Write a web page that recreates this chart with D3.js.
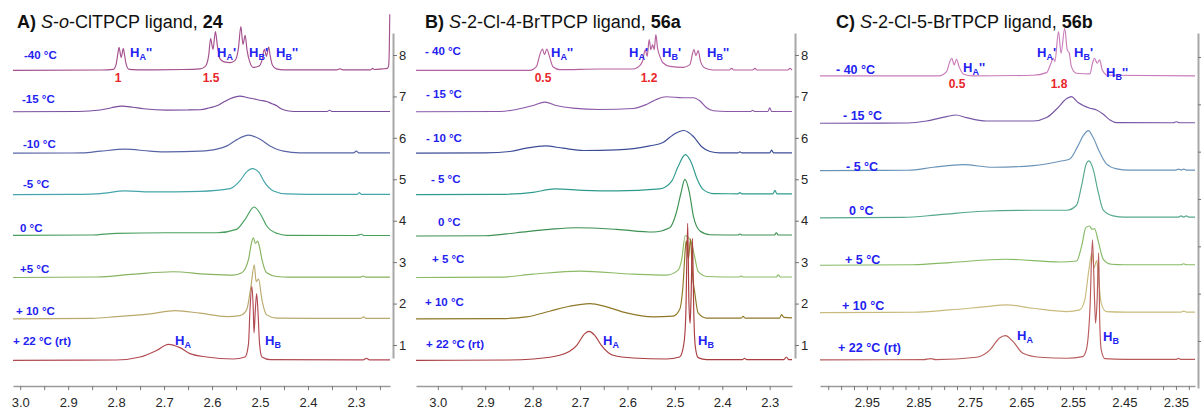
<!DOCTYPE html>
<html>
<head>
<meta charset="utf-8">
<script src="https://cdn.jsdelivr.net/npm/d3@7"></script>
<style>
  html, body { margin: 0; padding: 0; background: #fff; }
  svg { display: block; font-family: "Liberation Sans", Arial, sans-serif; }
</style>
</head>
<body>
<script>
// ---------------- data ----------------
// Chemical-shift ticks (ppm) labelled on each horizontal axis
const ppmTicksA = [3.0, 2.9, 2.8, 2.7, 2.6, 2.5, 2.4, 2.3];
const ppmTicksB = [3.0, 2.9, 2.8, 2.7, 2.6, 2.5, 2.4, 2.3];
const ppmTicksC = [2.95, 2.85, 2.75, 2.65, 2.55, 2.45, 2.35];
// Stack offsets shown on the right-hand axis
const offsetTicksAB = [1, 2, 3, 4, 5, 6, 7, 8];
const offsetTicksC = [2, 3, 4, 5, 6, 7, 8];

// Temperatures, top spectrum first
const tempsA = ["-40 °C", "-15 °C", "-10 °C", "-5 °C", "0 °C", "+5 °C", "+ 10 °C", "+ 22 °C (rt)"];
const tempsB = ["- 40 °C", "- 15 °C", "- 10 °C", "- 5 °C", "0 °C", "+ 5 °C", "+ 10 °C", "+ 22 °C (rt)"];
const tempsC = ["- 40 °C", "- 15 °C", "- 5 °C", "0 °C", "+ 5 °C", "+ 10 °C", "+ 22 °C (rt)"];

// Integrals of the -40 °C signals
const integralsA = ["1", "1.5"];
const integralsB = ["0.5", "1.2"];
const integralsC = ["0.5", "1.8"];

// Spectra: [ppm, intensity (a.u.)], top spectrum first
const spectraA = [
  [[3.015,0],[2.83,0.3],[2.806,1],[2.800,6],[2.796,18],[2.794,23],[2.7895,13],[2.785,22],[2.783,17],[2.779,6],[2.773,1],[2.74,0.5],[2.66,0.8],[2.625,1.5],[2.614,4],[2.607,15],[2.603,31.7],[2.598,21],[2.593,38.7],[2.589,25],[2.584,12],[2.575,8.5],[2.562,7.7],[2.552,10],[2.545,22],[2.540,43.7],[2.5355,26],[2.531,35],[2.527,20],[2.521,8],[2.514,3],[2.503,4],[2.496,10],[2.491,21],[2.4865,14],[2.482,23.3],[2.479,15],[2.474,5],[2.466,1.5],[2.45,0.5],[2.34,0.5],[2.333,1.5],[2.328,0.5],[2.27,0.5],[2.265,2],[2.262,0.8],[2.245,1.5],[2.235,2],[2.232,4],[2.2305,20],[2.2295,56]],
  [[3.015,0],[2.88,0.3],[2.833,1.7],[2.81,4],[2.788,5.7],[2.765,4.5],[2.743,3],[2.694,1.7],[2.65,1.8],[2.625,2],[2.605,4],[2.59,6],[2.575,10],[2.5625,13],[2.542,15.7],[2.525,14],[2.514,13],[2.5,11.5],[2.486,10.3],[2.475,8],[2.465,6],[2.458,3.5],[2.451,2],[2.44,0.8],[2.42,0.3],[2.36,0.3],[2.355,1.5],[2.35,0.3],[2.229,0.3]],
  [[3.015,0],[2.87,0.3],[2.833,2],[2.781,4],[2.729,2],[2.694,1.3],[2.625,2],[2.59,4],[2.569,7.3],[2.549,13.3],[2.524,18],[2.5,14],[2.479,7.3],[2.462,3.5],[2.451,2],[2.417,0.3],[2.305,0.3],[2.299,2],[2.294,0.3],[2.229,0.3]],
  [[3.015,0],[2.87,0.3],[2.833,1],[2.781,3.7],[2.729,2.7],[2.625,3.3],[2.5625,6],[2.542,13.7],[2.528,22.7],[2.516,26],[2.503,22.7],[2.490,12],[2.472,3.7],[2.444,0.7],[2.40,0.3],[2.297,0.3],[2.293,2],[2.289,0.3],[2.229,0.3]],
  [[3.015,0.7],[2.85,1],[2.799,2.7],[2.694,3.3],[2.59,3.3],[2.549,6.7],[2.531,16.7],[2.5125,29],[2.496,19.3],[2.486,10],[2.465,2.7],[2.444,0.7],[2.30,0.5],[2.288,1.8],[2.284,0.5],[2.229,0.5]],
  [[3.015,0],[2.84,0.5],[2.764,3.3],[2.681,5.7],[2.611,3.3],[2.556,2.3],[2.538,4.7],[2.524,18],[2.518,34],[2.514,39.7],[2.5095,34],[2.505,36.3],[2.500,28],[2.496,18],[2.486,4.7],[2.465,1],[2.44,0.3],[2.29,0.3],[2.285,1.5],[2.28,0.3],[2.229,0.3]],
  [[3.015,0],[2.85,0.5],[2.799,2.3],[2.729,5],[2.677,8.3],[2.625,5.7],[2.569,2.3],[2.542,3.3],[2.528,9],[2.519,32.3],[2.512,54],[2.508,37.3],[2.503,39.7],[2.496,19],[2.486,4],[2.465,0.7],[2.29,0.5],[2.284,2],[2.279,0.5],[2.229,0.5]],
  [[3.015,0],[2.80,0.3],[2.75,3.3],[2.715,10],[2.691,16],[2.667,12.7],[2.646,6.7],[2.611,3.3],[2.556,1.3],[2.531,3.3],[2.524,16.7],[2.521,50],[2.517,74],[2.514,50],[2.5125,27.3],[2.5098,50],[2.507,66.7],[2.504,46.7],[2.501,16.7],[2.496,3.3],[2.479,0.7],[2.285,0.5],[2.278,2],[2.272,0.5],[2.229,0.5]]
];

const spectraB = [
  [[3.046,0],[2.806,0],[2.7918,4],[2.7848,15.7],[2.7792,21.3],[2.775,15.7],[2.770,21.3],[2.7651,14.7],[2.7567,3.3],[2.7426,0.7],[2.658,1.3],[2.588,1.3],[2.5774,3.3],[2.5682,9],[2.5626,20.7],[2.5584,14],[2.5542,30.7],[2.5506,20.7],[2.5471,25.7],[2.5436,20.7],[2.5401,35.7],[2.5366,22.3],[2.5316,14],[2.5246,7.3],[2.5105,4],[2.4824,3],[2.4684,5.7],[2.4599,20.7],[2.4557,14.7],[2.4508,19.7],[2.4459,9],[2.4367,2.3],[2.4191,0.3],[2.385,0.3],[2.3804,2],[2.376,0.3],[2.336,0.3],[2.3312,2],[2.327,0.3],[2.262,0.3],[2.2574,2],[2.253,0.3]],
  [[3.046,0],[2.869,0.3],[2.834,2.3],[2.799,6.3],[2.774,9.7],[2.750,6.3],[2.715,3.7],[2.658,2.3],[2.588,3.3],[2.560,7.3],[2.539,12.3],[2.518,15],[2.483,14],[2.461,14],[2.447,10.7],[2.433,4],[2.419,1],[2.39,0.3],[2.34,0.3],[2.336,1.5],[2.332,0.3],[2.304,0.3],[2.300,4],[2.296,0.3],[2.253,0.3]],
  [[3.046,0],[2.90,0.3],[2.848,1.7],[2.813,5],[2.774,7.3],[2.736,5],[2.693,2.7],[2.623,3.3],[2.553,7.3],[2.525,10.7],[2.504,18.3],[2.481,22.7],[2.461,16.7],[2.444,6.7],[2.426,1.7],[2.405,0.3],[2.367,0.3],[2.363,1.3],[2.359,0.3],[2.30,0.3],[2.296,3],[2.292,0.3],[2.253,0.3]],
  [[3.046,0],[2.869,0.3],[2.799,2.3],[2.753,5.7],[2.693,4.3],[2.623,3.7],[2.532,5.7],[2.507,13.3],[2.493,28.3],[2.478,40],[2.465,31.7],[2.454,16.7],[2.440,5],[2.419,1],[2.367,0.8],[2.363,2],[2.359,0.8],[2.293,0.8],[2.289,4.3],[2.285,0.8],[2.253,0.8]],
  [[3.046,0],[2.90,0.3],[2.834,3.3],[2.764,6.7],[2.708,8.3],[2.623,6.7],[2.546,4],[2.511,8.3],[2.497,23.3],[2.487,43.3],[2.479,56.7],[2.470,45],[2.461,20],[2.447,5],[2.426,1.3],[2.367,1],[2.363,2],[2.359,1],[2.290,1],[2.286,3.3],[2.282,1],[2.253,1]],
  [[3.046,0],[2.87,0.3],[2.799,3.3],[2.700,6.3],[2.588,3.3],[2.518,2.3],[2.493,7.3],[2.486,17],[2.478,42],[2.472,40],[2.465,35],[2.458,20],[2.451,6],[2.433,1],[2.364,0.5],[2.360,1.5],[2.356,0.5],[2.286,0.5],[2.282,2.7],[2.278,0.5],[2.253,0.5]],
  [[3.046,0],[2.869,0.3],[2.813,2],[2.764,7.7],[2.722,12.7],[2.679,15.3],[2.644,12],[2.602,6],[2.546,2],[2.504,2.7],[2.490,9.3],[2.483,32.7],[2.478,70],[2.476,78],[2.4715,60],[2.467,80],[2.463,45],[2.458,26],[2.451,6],[2.433,0.8],[2.36,0.8],[2.356,2.5],[2.352,0.8],[2.279,0.8],[2.275,4.3],[2.270,1.5],[2.253,1]],
  [[3.046,0],[2.85,0.3],[2.799,1.3],[2.743,5],[2.707,15],[2.690,26.7],[2.681,29],[2.669,25],[2.655,15],[2.630,5],[2.588,2.3],[2.518,1.3],[2.490,3.3],[2.481,16.7],[2.477,45],[2.473,137],[2.4705,60],[2.468,37],[2.466,60],[2.463,122],[2.460,45],[2.457,14],[2.451,2.7],[2.433,0.7],[2.357,0.7],[2.353,2],[2.349,0.7],[2.27,0.7],[2.265,3.3],[2.26,0.7],[2.253,0.7]]
];

const spectraC = [
  [[3.041,0],[2.81,0],[2.7954,4.3],[2.789,14.3],[2.785,17.7],[2.7805,11],[2.776,16.7],[2.771,9.3],[2.763,2],[2.744,0],[2.627,0.7],[2.601,3.3],[2.594,11],[2.588,17.7],[2.585,14.3],[2.578,44.3],[2.573,22.7],[2.566,47.7],[2.561,26],[2.557,22.7],[2.553,9.3],[2.543,2.7],[2.517,2],[2.512,12.7],[2.508,17.7],[2.503,12.7],[2.498,16],[2.493,6],[2.482,0.7],[2.313,0]],
  [[3.041,0],[2.87,0.3],[2.834,2.3],[2.795,6.7],[2.777,8.3],[2.757,5.7],[2.718,2.3],[2.627,2.3],[2.601,5.7],[2.582,14],[2.562,24.7],[2.553,26.7],[2.540,20.7],[2.517,15],[2.504,13.3],[2.491,9],[2.478,3.3],[2.465,0.7],[2.355,0.5],[2.349,1.5],[2.343,0.5],[2.313,0.5]],
  [[3.041,0],[2.87,0.3],[2.821,3.3],[2.763,6],[2.705,3.3],[2.627,5],[2.575,9.3],[2.556,11.7],[2.540,25],[2.530,35],[2.520,40],[2.511,33.3],[2.498,18.3],[2.485,6.7],[2.465,1.7],[2.44,0.5],[2.35,0.5],[2.345,1.5],[2.34,0.5],[2.335,1.5],[2.33,0.5],[2.313,0.5]],
  [[3.041,0],[2.88,0.5],[2.808,3.3],[2.724,6.7],[2.627,7.7],[2.562,7.7],[2.543,12.7],[2.533,32.7],[2.524,54.3],[2.519,57],[2.511,49.3],[2.501,26],[2.491,7.7],[2.472,2],[2.45,0.8],[2.345,0.8],[2.34,2],[2.335,0.8],[2.33,2],[2.325,0.8],[2.313,0.8]],
  [[3.041,0],[2.86,0.5],[2.789,2.7],[2.679,6],[2.575,3.3],[2.543,4.3],[2.533,19.3],[2.525,37.7],[2.518,39.3],[2.513,36],[2.508,36.7],[2.501,24.3],[2.491,6],[2.475,1],[2.45,0.5],[2.34,0.5],[2.335,1.5],[2.33,0.5],[2.313,0.5]],
  [[3.041,0],[2.86,0.3],[2.789,2.7],[2.718,6],[2.679,7.7],[2.627,4.3],[2.562,1],[2.537,2.7],[2.527,12.7],[2.519,42.7],[2.513,60],[2.509,45],[2.504,52],[2.500,32.7],[2.495,9.3],[2.485,1],[2.45,0.5],[2.34,0.5],[2.335,1.5],[2.33,0.5],[2.313,0.5]],
  [[3.041,0],[2.84,0.3],[2.826,1.3],[2.816,0.3],[2.737,2.7],[2.711,10],[2.693,21.7],[2.681,24.3],[2.666,18.3],[2.647,6.7],[2.614,2.7],[2.562,1.7],[2.531,3.3],[2.524,10],[2.517,50],[2.512,120],[2.508,60],[2.506,36.7],[2.503,60],[2.500,107],[2.498,40],[2.495,10],[2.488,1.3],[2.45,0.5],[2.35,0.5],[2.345,1.5],[2.34,0.5],[2.313,0.5]]
];

// ---------------- styles & layout ----------------
const BLUE = "#1f22f0", RED = "#e8262b", AXIS = "#9a9a9a", TXT = "#262626";
const colorsA = ["#a4508e", "#7b4c9c", "#5864a6", "#45a5ab", "#48a05e", "#86b35f", "#b9a96c", "#b24a52"];
const colorsB = ["#b5609f", "#8b58a8", "#3c4d97", "#2f9b8e", "#3d9152", "#8cbb66", "#8e7826", "#aa3d3f"];
const colorsC = ["#c97cba", "#7656a6", "#6a93b8", "#55a98a", "#85ba63", "#c9bb7e", "#b95b5b"];

const W = 1201, H = 411;
const svg = d3.select("body").append("svg").attr("width", W).attr("height", H);

const panels = [
  {
    title: [["A)", "bold", "normal"], [" ", "normal", "normal"], ["S", "normal", "italic"], ["-", "normal", "normal"], ["o", "normal", "italic"], ["-ClTPCP ligand, ", "normal", "normal"], ["24", "bold", "normal"]],
    titleX: 17,
    xDomain: [3.015, 2.229], xRange: [13, 390],
    ticks: ppmTicksA, tickStep: 0.05, fmt: d3.format(".1f"),
    offDomain: [0.686, 8.531], offRange: [358, 33], offTicks: offsetTicksAB, offLabels: true,
    axisX: 393, baseShift: 0.37,
    temps: tempsA, tempSize: 11.5, spectra: spectraA, colors: colorsA,
    tempPos: [[24, 56], [22, 100], [23, 145], [23, 185], [20, 229], [20, 270], [16, 312], [13, 342]],
    peaks: [[130, 57, "A", "''"], [217, 57, "A", "'"], [249, 57, "B", "'"], [276, 57, "B", "''"], [175, 345, "A", ""], [265, 345, "B", ""]],
    integrals: integralsA, intPos: [[118, 82], [211, 82]]
  },
  {
    title: [["B)", "bold", "normal"], [" ", "normal", "normal"], ["S", "normal", "italic"], ["-2-Cl-4-BrTPCP ligand, ", "normal", "normal"], ["56a", "bold", "normal"]],
    titleX: 425,
    xDomain: [3.046, 2.253], xRange: [416, 792],
    ticks: ppmTicksB, tickStep: 0.05, fmt: d3.format(".1f"),
    offDomain: [0.686, 8.531], offRange: [358, 33], offTicks: offsetTicksAB, offLabels: true,
    axisX: 795, baseShift: 0.37,
    temps: tempsB, tempSize: 11.5, spectra: spectraB, colors: colorsB,
    tempPos: [[425, 52], [426, 95], [426, 139], [431, 180], [438, 223], [432, 260], [425, 303], [426, 345]],
    peaks: [[551, 57, "A", "''"], [629, 57, "A", "'"], [662, 57, "B", "'"], [707, 57, "B", "''"], [603, 345, "A", ""], [698, 345, "B", ""]],
    integrals: integralsB, intPos: [[543, 82], [649, 82]]
  },
  {
    title: [["C)", "bold", "normal"], [" ", "normal", "normal"], ["S", "normal", "italic"], ["-2-Cl-5-BrTPCP ligand, ", "normal", "normal"], ["56b", "bold", "normal"]],
    titleX: 836,
    xDomain: [3.041, 2.313], xRange: [820, 1195],
    ticks: ppmTicksC, tickStep: 0.025, fmt: d3.format(".2f"),
    offDomain: [1.007, 8.507], offRange: [388, 33], offTicks: offsetTicksC, offLabels: false,
    axisX: 1198, baseShift: 0.4,
    temps: tempsC, tempSize: 12.5, spectra: spectraC, colors: colorsC,
    tempPos: [[836, 71], [843, 117], [846, 168], [849, 212], [845, 261], [842, 307], [838, 349]],
    peaks: [[963, 72, "A", "''"], [1037, 57, "A", "'"], [1074, 57, "B", "'"], [1106, 77, "B", "''"], [1017, 340, "A", ""], [1103, 341, "B", ""]],
    integrals: integralsC, intPos: [[957, 88], [1059, 88]]
  }
];

// intensity in a.u. -> vertical pixels
const amp = d3.scaleLinear().domain([0, 100]).range([0, 100]);

panels.forEach(p => {
  const g = svg.append("g");
  const x = d3.scaleLinear().domain(p.xDomain).range(p.xRange);
  const yOff = d3.scaleLinear().domain(p.offDomain).range(p.offRange);
  const nTop = 8;

  // title
  const t = g.append("text").attr("x", p.titleX).attr("y", 28)
    .attr("font-size", 18).attr("fill", "#111");
  p.title.forEach(([s, w, st]) => t.append("tspan").attr("font-weight", w).attr("font-style", st).text(s));

  // spectra, top first so the lower traces sit on top
  p.spectra.forEach((spec, i) => {
    const base = nTop - i - p.baseShift;
    const line = d3.line()
      .x(d => x(d[0]))
      .y(d => yOff(base) - amp(d[1]))
      .curve(d3.curveMonotoneX);
    g.append("path").datum(spec)
      .attr("d", line).attr("fill", "none")
      .attr("stroke", p.colors[i]).attr("stroke-width", 1.15)
      .attr("stroke-linejoin", "round");
  });

  // temperature labels
  p.temps.forEach((s, i) => {
    g.append("text").attr("x", p.tempPos[i][0]).attr("y", p.tempPos[i][1])
      .attr("dominant-baseline", "middle")
      .attr("font-size", p.tempSize).attr("font-weight", "bold").attr("fill", BLUE).text(s);
  });

  // proton assignments
  p.peaks.forEach(([px, py, sub, primes]) => {
    const tx = g.append("text").attr("x", px).attr("y", py)
      .attr("font-size", 13).attr("font-weight", "bold").attr("fill", BLUE);
    tx.append("tspan").text("H");
    tx.append("tspan").attr("font-size", 9).attr("dy", 3).text(sub);
    if (primes) tx.append("tspan").attr("font-size", 13).attr("dy", -3).text(primes);
  });

  // integrals
  p.integrals.forEach((s, i) => {
    g.append("text").attr("x", p.intPos[i][0]).attr("y", p.intPos[i][1])
      .attr("text-anchor", "middle").attr("font-size", 12).attr("font-weight", "bold")
      .attr("fill", RED).text(s);
  });

  // ppm axis
  const lo = Math.min(...p.xDomain), hi = Math.max(...p.xDomain);
  const allTicks = d3.range(Math.ceil(lo / p.tickStep - 1e-6), Math.floor(hi / p.tickStep + 1e-6) + 1)
    .map(k => +(k * p.tickStep).toFixed(3));
  const labelled = new Set(p.ticks.map(v => v.toFixed(3)));
  const xAxis = d3.axisBottom(x).tickValues(allTicks).tickSize(4).tickSizeOuter(0).tickPadding(8)
    .tickFormat(v => labelled.has(v.toFixed(3)) ? p.fmt(v) : "");
  const ax = g.append("g").attr("transform", "translate(0,386)").call(xAxis);
  ax.select(".domain").attr("stroke", AXIS).attr("stroke-width", 1.6);
  ax.selectAll(".tick line").attr("stroke", "#777");
  ax.selectAll(".tick text").attr("font-size", 13).attr("fill", TXT)
    .attr("font-family", "\"Liberation Sans\", Arial, sans-serif");

  // stack-offset axis
  const yAxis = d3.axisRight(yOff).tickValues(p.offTicks).tickSize(4).tickSizeOuter(0).tickPadding(2)
    .tickFormat(p.offLabels ? d3.format("d") : () => "");
  const ay = g.append("g").attr("transform", `translate(${p.axisX},0)`).call(yAxis);
  ay.select(".domain").attr("stroke", "#a8a8a8").attr("stroke-width", 2);
  ay.selectAll(".tick line").attr("stroke", "#777");
  ay.selectAll(".tick text").attr("font-size", 13).attr("fill", TXT)
    .attr("font-family", "\"Liberation Sans\", Arial, sans-serif");
});
</script>
</body>
</html>
